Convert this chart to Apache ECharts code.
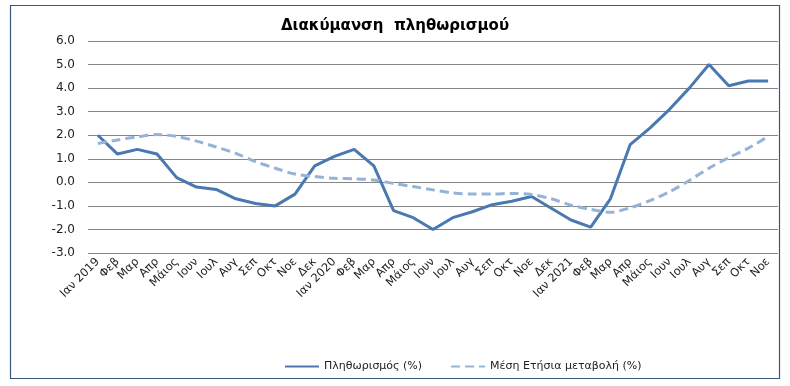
<!DOCTYPE html>
<html>
<head>
<meta charset="utf-8">
<script src="https://cdn.jsdelivr.net/npm/echarts@6/dist/echarts.min.js"></script>
<style>
html,body{margin:0;padding:0;background:#fff;}
#chart{width:790px;height:386px;}
</style>
</head>
<body>
<div id="chart"></div>
<script>
const categories = ['Ιαν 2019','Φεβ','Μαρ','Απρ','Μάιος','Ιουν','Ιουλ','Αυγ','Σεπ','Οκτ','Νοε','Δεκ',
  'Ιαν 2020','Φεβ','Μαρ','Απρ','Μάιος','Ιουν','Ιουλ','Αυγ','Σεπ','Οκτ','Νοε','Δεκ',
  'Ιαν 2021','Φεβ','Μαρ','Απρ','Μάιος','Ιουν','Ιουλ','Αυγ','Σεπ','Οκτ','Νοε'];
const inflation = [2.0,1.2,1.4,1.2,0.2,-0.2,-0.3,-0.7,-0.9,-1.0,-0.5,0.7,
  1.1,1.4,0.7,-1.2,-1.5,-2.0,-1.5,-1.25,-0.95,-0.8,-0.6,-1.1,
  -1.6,-1.9,-0.7,1.6,2.3,3.1,4.0,5.0,4.1,4.3,4.3];
const avgAnnual = [1.65,1.8,1.93,2.03,1.95,1.75,1.5,1.23,0.88,0.6,0.35,0.25,
  0.17,0.15,0.1,-0.05,-0.18,-0.32,-0.45,-0.5,-0.5,-0.47,-0.52,-0.7,
  -0.97,-1.15,-1.27,-1.08,-0.78,-0.4,0.08,0.6,1.05,1.45,1.95];
const yTicks = {min:-3, max:6, interval:1};
const seriesNames = ['Πληθωρισμός (%)','Μέση Ετήσια μεταβολή (%)'];

const font = 'DejaVu Sans';
const chart = echarts.init(document.getElementById('chart'), null, {renderer:'canvas'});
chart.setOption({
  animation:false,
  backgroundColor:'#fff',
  graphic:[{type:'rect', shape:{x:10.5,y:5.5,width:769,height:373}, style:{fill:'none',stroke:'#3a5878',lineWidth:1.2}, silent:true}],
  title:{text:'Διακύμανση  πληθωρισμού', left:'center', top:14,
    textStyle:{fontFamily:font, fontSize:15, fontWeight:'bold', color:'#000'}},
  legend:{left:279, top:356, itemWidth:34, itemHeight:10, itemGap:28,
    itemStyle:{opacity:0},
    textStyle:{fontFamily:font, fontSize:11, color:'#222'},
    data:seriesNames},
  grid:{left:88, right:12, top:41, bottom:133},
  xAxis:{type:'category', data:categories, boundaryGap:true,
    axisLine:{show:false}, axisTick:{show:false},
    axisLabel:{rotate:45, interval:0, fontFamily:font, fontSize:11.5, color:'#222', margin:7}},
  yAxis:{type:'value', min:yTicks.min, max:yTicks.max, interval:yTicks.interval,
    axisLine:{show:false}, axisTick:{show:false},
    axisLabel:{fontFamily:font, fontSize:12, color:'#222', margin:13, formatter:v=>v.toFixed(1)},
    splitLine:{lineStyle:{color:'#868686', width:1}}},
  series:[
    {name:seriesNames[0], type:'line', data:inflation, symbol:'none', showSymbol:false,
      lineStyle:{color:'#4a78b0', width:3}, itemStyle:{color:'#4a78b0'}},
    {name:seriesNames[1], type:'line', data:avgAnnual, symbol:'none', showSymbol:false, smooth:0.3,
      lineStyle:{color:'#95b3d7', width:3, type:[9,5]}, itemStyle:{color:'#95b3d7'}}
  ]
});
</script>
</body>
</html>
